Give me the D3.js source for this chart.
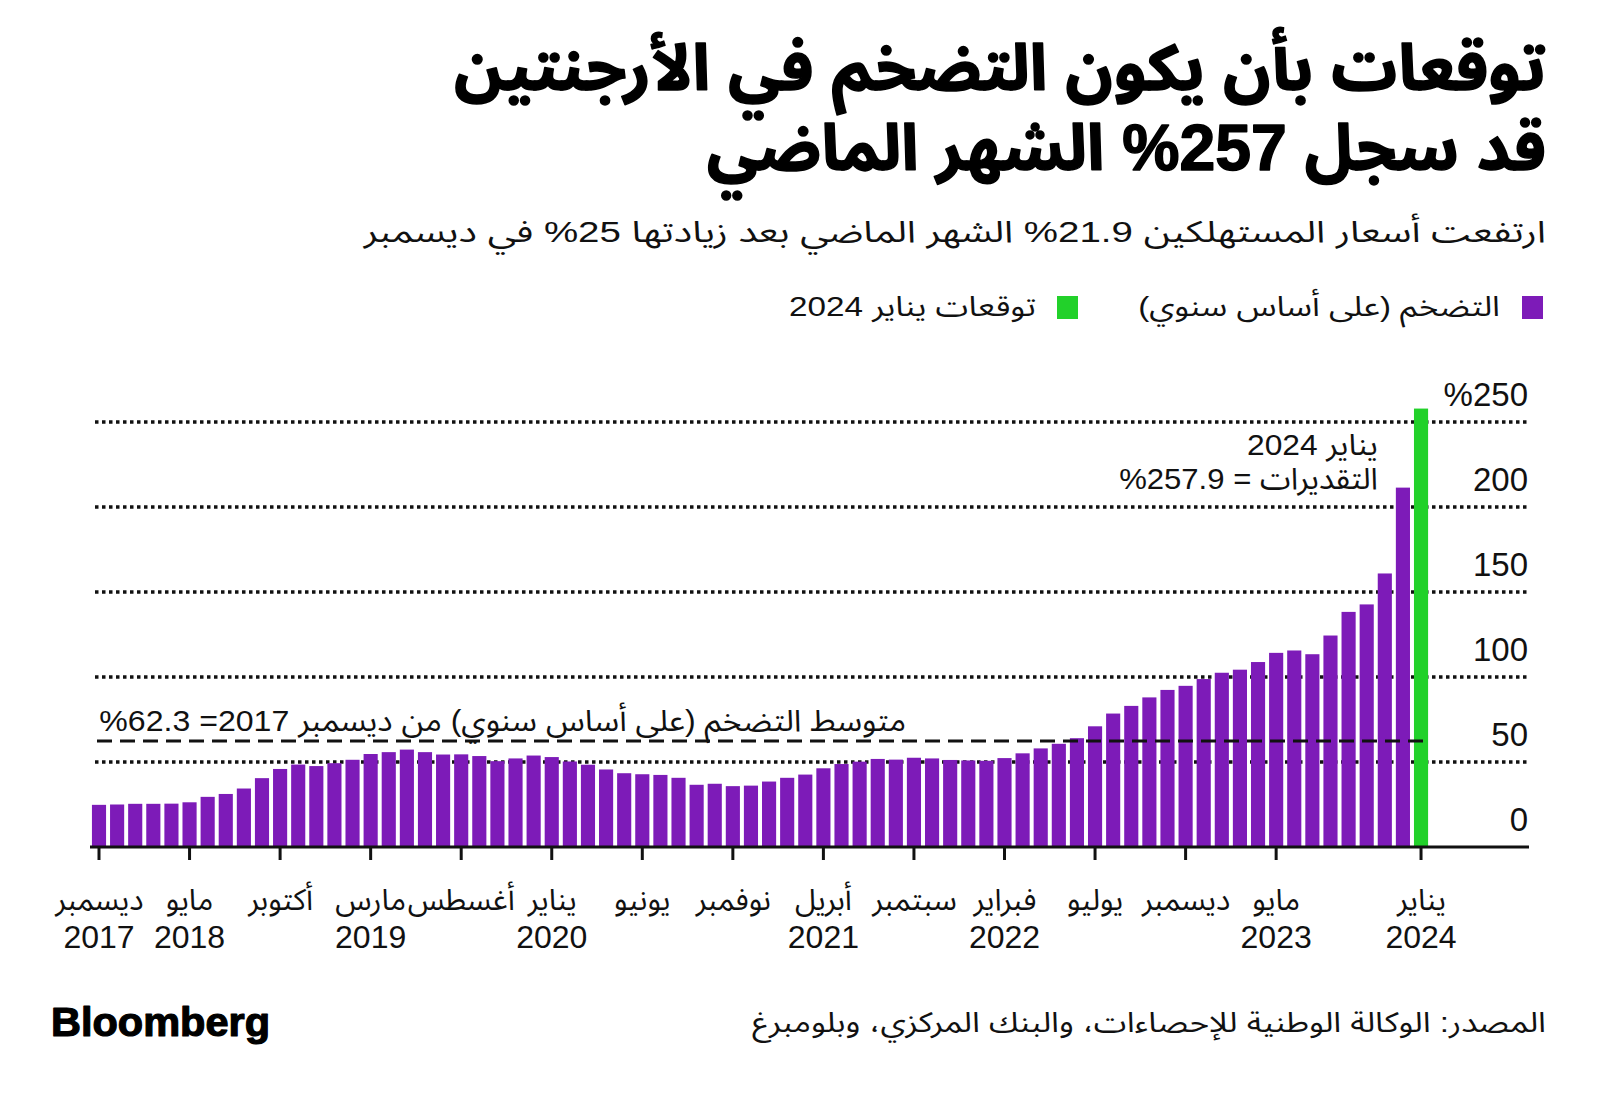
<!DOCTYPE html>
<html><head><meta charset="utf-8">
<script src="https://cdn.jsdelivr.net/npm/d3@7"></script>
<style>
body{margin:0;background:#fff;}
svg{display:block;}
text{font-family:"Liberation Sans","Noto Sans Arabic","DejaVu Sans",sans-serif;}
</style></head><body>
<svg id="c" width="1600" height="1103"></svg>
<script>
// ---------- DATA ----------
const months = ["2017-12",
 "2018-01","2018-02","2018-03","2018-04","2018-05","2018-06","2018-07","2018-08","2018-09","2018-10","2018-11","2018-12",
 "2019-01","2019-02","2019-03","2019-04","2019-05","2019-06","2019-07","2019-08","2019-09","2019-10","2019-11","2019-12",
 "2020-01","2020-02","2020-03","2020-04","2020-05","2020-06","2020-07","2020-08","2020-09","2020-10","2020-11","2020-12",
 "2021-01","2021-02","2021-03","2021-04","2021-05","2021-06","2021-07","2021-08","2021-09","2021-10","2021-11","2021-12",
 "2022-01","2022-02","2022-03","2022-04","2022-05","2022-06","2022-07","2022-08","2022-09","2022-10","2022-11","2022-12",
 "2023-01","2023-02","2023-03","2023-04","2023-05","2023-06","2023-07","2023-08","2023-09","2023-10","2023-11","2023-12"];
const inflation = [24.8,
 25.0,25.4,25.4,25.5,26.3,29.5,31.2,34.4,40.5,45.9,48.5,47.6,
 49.3,51.3,54.7,55.8,57.3,55.8,54.4,54.5,53.5,50.5,52.1,53.8,
 52.9,50.3,48.4,45.6,43.4,42.8,42.4,40.7,36.6,37.2,35.8,36.1,
 38.5,40.7,42.6,46.3,48.8,50.2,51.8,51.4,52.5,52.1,51.2,50.9,
 50.7,52.3,55.1,58.0,60.7,64.0,71.0,78.5,83.0,88.0,92.4,94.8,
 98.8,102.5,104.3,108.8,114.2,115.6,113.4,124.4,138.3,142.7,160.9,211.4];
const forecastMonths = ["2024-01"];
const forecastValues = [257.9];
const averageValue = 62.3;

const yTicks = [0,50,100,150,200,250];
const yTickLabels = ["0","50","100","150","200","%250"];
const gridValues = [50,100,150,200,250];

const tickMonths = ["2017-12","2018-05","2018-10","2019-03","2019-08","2020-01","2020-06","2020-11","2021-04","2021-09","2022-02","2022-07","2022-12","2023-05","2024-01"];
const tickMonthLabels = ["ديسمبر","مايو","أكتوبر","مارس","أغسطس","يناير","يونيو","نوفمبر","أبريل","سبتمبر","فبراير","يوليو","ديسمبر","مايو","يناير"];
const tickYearLabels = ["2017","2018","","2019","","2020","","","2021","","2022","","","2023","2024"];

// \u2066 ... \u2069 isolate numeric runs so their visual order is fixed
const titleLines = ["توقعات بأن يكون التضخم في الأرجنتين","قد سجل \u2066%257\u2069 الشهر الماضي"];
const subtitle = "ارتفعت أسعار المستهلكين \u2066%21.9\u2069 الشهر الماضي بعد زيادتها \u2066%25\u2069 في ديسمبر";
const legendLabels = ["التضخم (على أساس سنوي)","توقعات يناير 2024"];
const annotationLines = ["يناير 2024","التقديرات = \u2066%257.9\u2069"];
const averageLabel = "متوسط التضخم (على أساس سنوي) من ديسمبر 2017= \u2066%62.3\u2069";
const sourceText = "المصدر: الوكالة الوطنية للإحصاءات، والبنك المركزي، وبلومبرغ";

// ---------- STYLE ----------
const PURPLE = "#7d1bb8", GREEN = "#22d12a";
const svg = d3.select("#c");

function txt(pos, y, s, o) {
  const g = svg.append("g").attr("transform", `translate(0,${y})`);
  const t = g.append("text").text(s)
    .attr("font-size", o.size)
    .attr("font-weight", o.weight || 400)
    .attr("fill", o.fill || "#111");
  if (o.stroke) t.attr("stroke", o.fill || "#111").attr("stroke-width", o.stroke).attr("stroke-linejoin", "round");
  if (o.rtl) t.attr("direction", "rtl").style("direction", "rtl").style("unicode-bidi", "embed");
  const b = t.node().getBBox();
  const s0 = o.width ? o.width / b.width : (o.sx || 1);
  let tx;
  if (o.align === "right") tx = pos - s0 * (b.x + b.width);
  else if (o.align === "center") tx = pos - s0 * (b.x + b.width / 2);
  else tx = pos - s0 * b.x;
  t.attr("transform", `translate(${tx},0) scale(${s0},1)`);
  return t;
}

// ---------- SCALES ----------
const allMonths = months.concat(forecastMonths);
const step = 18.11;
const x = d3.scaleBand().domain(allMonths)
  .range([99 - step / 2, 99 - step / 2 + step * allMonths.length])
  .paddingInner(0.22).paddingOuter(0.11);
const y = d3.scaleLinear().domain([0, 250]).range([847, 422]);
const cx = m => x(m) + x.bandwidth() / 2;

// ---------- TITLES ----------
txt(1546, 90, titleLines[0], {size: 64, weight: 700, rtl: true, align: "right", width: 1092, fill: "#000", stroke: 1.5});
txt(1546, 170, titleLines[1], {size: 64, weight: 700, rtl: true, align: "right", width: 839, fill: "#000", stroke: 1.5});
txt(1546, 242, subtitle, {size: 30, rtl: true, align: "right", width: 1184});

// legend
svg.append("rect").attr("x", 1522).attr("y", 296).attr("width", 21).attr("height", 23).attr("fill", PURPLE);
txt(1500, 316, legendLabels[0], {size: 28, rtl: true, align: "right", width: 362});
svg.append("rect").attr("x", 1057).attr("y", 296).attr("width", 21).attr("height", 23).attr("fill", GREEN);
txt(1036, 316, legendLabels[1], {size: 28, rtl: true, align: "right", width: 247});

// ---------- GRID ----------
svg.append("g").selectAll("line").data(gridValues).join("line")
  .attr("x1", 95).attr("x2", 1529)
  .attr("y1", d => y(d)).attr("y2", d => y(d))
  .attr("stroke", "#111").attr("stroke-width", 3.5).attr("stroke-dasharray", "3.5,3.5");

// ---------- BARS ----------
svg.append("g").selectAll("rect").data(months).join("rect")
  .attr("x", d => x(d)).attr("width", x.bandwidth())
  .attr("y", (d, i) => y(inflation[i]))
  .attr("height", (d, i) => y(0) - y(inflation[i]))
  .attr("fill", PURPLE);
svg.append("g").selectAll("rect").data(forecastMonths).join("rect")
  .attr("x", d => x(d)).attr("width", x.bandwidth())
  .attr("y", (d, i) => y(forecastValues[i]))
  .attr("height", (d, i) => y(0) - y(forecastValues[i]))
  .attr("fill", GREEN);

// average dashed line
svg.append("line")
  .attr("x1", 97).attr("x2", x(forecastMonths[0]) + x.bandwidth())
  .attr("y1", y(averageValue)).attr("y2", y(averageValue))
  .attr("stroke", "#111").attr("stroke-width", 3).attr("stroke-dasharray", "15,8");
txt(99, 731, averageLabel, {size: 30, rtl: true, align: "left", width: 807});

// annotation
txt(1378, 455, annotationLines[0], {size: 30, rtl: true, align: "right", width: 131});
txt(1378, 489, annotationLines[1], {size: 30, rtl: true, align: "right", width: 259});

// ---------- AXES ----------
svg.append("line").attr("x1", 90).attr("x2", 1529).attr("y1", y(0)).attr("y2", y(0))
  .attr("stroke", "#111").attr("stroke-width", 3);
svg.append("g").selectAll("line").data(tickMonths).join("line")
  .attr("x1", d => cx(d)).attr("x2", d => cx(d))
  .attr("y1", y(0)).attr("y2", y(0) + 13)
  .attr("stroke", "#111").attr("stroke-width", 3);

tickMonths.forEach((m, i) => {
  txt(cx(m), 910, tickMonthLabels[i], {size: 30, rtl: true, align: "center"});
  if (tickYearLabels[i]) txt(cx(m), 948, tickYearLabels[i], {size: 32, align: "center"});
});

yTicks.forEach((v, i) => {
  txt(1528, y(v) - 16, yTickLabels[i], {size: 33, align: "right"});
});

// ---------- FOOTER ----------
txt(51, 1036, "Bloomberg", {size: 40, weight: 700, align: "left", width: 219, fill: "#000", stroke: 1.2});
txt(1546, 1032, sourceText, {size: 28, rtl: true, align: "right", width: 794});
</script>
</body></html>
